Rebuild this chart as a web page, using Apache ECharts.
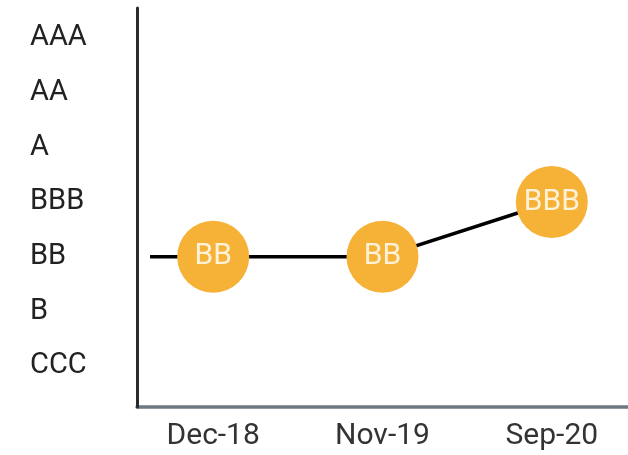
<!DOCTYPE html>
<html>
<head>
<meta charset="utf-8">
<script src="https://cdn.jsdelivr.net/npm/echarts@6/dist/echarts.min.js"></script>
<style>html,body{margin:0;padding:0;background:#fff}#c{width:628px;height:455px}</style>
</head>
<body>
<div id="c"></div>
<script>
// Rating scale (bottom to top)
const ratings = ['CCC', 'B', 'BB', 'BBB', 'A', 'AA', 'AAA'];
// Review dates
const categories = ['Dec-18', 'Nov-19', 'Sep-20'];
// Rating at each date
const ratingValues = ['BB', 'BB', 'BBB'];
// Line lead-in from before the first date (position in date units), rating carried
const leadInPos = -0.373;

const idx = r => ratings.indexOf(r) + 1;

const data = [
  { value: [leadInPos, idx(ratingValues[0])], symbol: 'none', label: { show: false } }
].concat(ratingValues.map((r, i) => ({ value: [i, idx(r)], name: r })));

const chart = echarts.init(document.getElementById('c'), null, { renderer: 'canvas' });
chart.setOption({
  animation: false,
  grid: { left: 137, right: 0, top: 8, bottom: 48, containLabel: false },
  xAxis: {
    type: 'value',
    min: -0.45,
    max: 2.45,
    splitLine: { show: false },
    axisTick: { show: false },
    axisLine: { show: true, onZero: false, lineStyle: { color: '#6e7880', width: 3.5 } },
    axisLabel: {
      customValues: categories.map((c, i) => i),
      formatter: v => categories[Math.round(v)],
      color: '#333',
      fontFamily: 'Roboto',
      fontSize: 30,
      margin: 14
    }
  },
  yAxis: {
    type: 'value',
    min: 0.25,
    max: 7.55,
    splitLine: { show: false },
    axisTick: { show: false },
    axisLine: { show: true, onZero: false, lineStyle: { color: '#2b2b2b', width: 3 } },
    axisLabel: {
      customValues: ratings.map((r, i) => i + 1),
      formatter: v => ratings[Math.round(v) - 1],
      color: '#222',
      fontFamily: 'Roboto',
      fontSize: 29,
      align: 'left',
      margin: 107
    },
    z: 3
  },
  series: [{
    type: 'line',
    data: data,
    symbol: 'circle',
    symbolSize: 72,
    itemStyle: { color: '#f6b137' },
    lineStyle: { color: '#000', width: 3.5 },
    label: {
      show: true,
      position: 'inside',
      formatter: p => p.name,
      color: '#fdf1d8',
      fontFamily: 'Roboto',
      fontSize: 30
    },
    z: 4
  }]
});
</script>
</body>
</html>
